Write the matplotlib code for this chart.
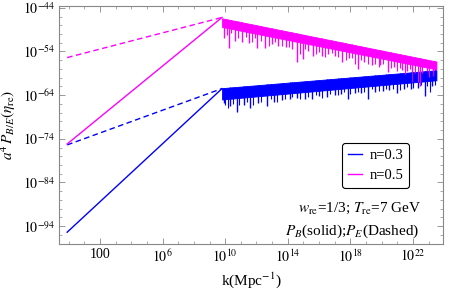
import numpy as np
import matplotlib
matplotlib.use("Agg")
import matplotlib.pyplot as plt
from matplotlib.lines import Line2D
from matplotlib.ticker import FixedLocator, FixedFormatter, NullFormatter

plt.rcParams['font.family'] = ['Liberation Serif', 'DejaVu Serif']
plt.rcParams['mathtext.fontset'] = 'stix'

# ---------------- data (log10 values) ----------------
# rising power-law parts: (log10 k, log10 P) at start and at the peak
k_rise = [-0.1, 9.8]
blue_solid_rise = [-95.4, -62.5]
blue_dash_rise = [-75.4, -62.5]
mag_solid_rise = [-75.2, -46.2]
mag_dash_rise = [-55.4, -46.2]

# oscillating region: upper envelope endpoints and dense band depth (decades)
k_osc = [9.8, 23.5]
mag_env = [-46.4, -56.3]
blue_env = [-62.4, -58.3]
mag_band = [2.0, 1.8]
blue_band = [2.6, 2.3]

# deep spikes (log10 k, log10 P)
mag_spike_k = [9.95, 10.24, 10.6, 11.1, 11.5, 12.03, 12.54, 13.0, 13.4, 13.9, 14.3, 14.59,
               14.97, 15.3, 15.61, 16.19, 16.6, 17.0, 17.46, 17.9, 18.49, 18.9, 19.4,
               19.9, 20.40, 20.8, 21.3, 21.6, 21.94, 22.45, 22.9, 23.28]
mag_spike_p = [-50.8, -53.1, -51.5, -51.8, -52.0, -53.1, -53.1, -52.3, -52.8, -53.0, -53.5, -56.3,
               -55.8, -54.0, -55.1, -55.1, -54.6, -55.0, -56.3, -55.6, -58.1, -56.5, -57.0,
               -57.2, -58.6, -57.6, -58.2, -58.5, -60.9, -62.0, -59.2, -59.7]
blue_spike_k = [9.95, 10.3, 10.75, 11.2, 11.58, 12.1, 12.67, 13.1, 13.6, 14.14, 14.6,
                15.1, 15.55, 16.0, 16.5, 17.0, 17.4, 17.85, 18.3, 18.7, 19.12, 19.6,
                20.1, 20.5, 20.98, 21.4, 21.9, 22.3, 22.77, 23.2]
blue_spike_p = [-65.7, -66.5, -67.8, -66.2, -66.9, -65.8, -66.6, -65.5, -65.2, -65.0, -64.6,
                -64.8, -65.0, -64.2, -64.4, -64.0, -63.8, -65.0, -63.5, -63.6, -65.0, -63.2,
                -63.0, -62.8, -63.4, -62.5, -62.6, -62.4, -64.3, -62.0]

# shorter spikes: depth below the upper envelope (decades)
mag_short_k = [10.1, 10.4, 10.8, 11.3, 11.7, 11.9, 12.3, 12.8, 13.2, 13.6, 14.1, 14.8,
               15.1, 15.8, 16.0, 16.4, 16.8, 17.2, 17.7, 18.1, 18.3, 18.7, 19.1, 19.6,
               19.8, 20.1, 20.6, 21.0, 21.2, 21.5, 21.8, 22.1, 22.3, 22.6, 23.0, 23.4]
mag_short_d = [3.6, 3.0, 3.8, 3.2, 4.0, 3.1, 3.5, 4.2, 3.0, 3.7, 3.4, 4.5,
               3.2, 3.9, 3.3, 4.1, 3.0, 3.6, 3.8, 3.1, 4.4, 3.2, 3.7, 3.4,
               4.0, 3.1, 3.5, 3.9, 3.2, 4.3, 3.0, 3.6, 5.5, 3.3, 3.8, 3.0]
blue_short_k = [10.0, 10.15, 10.5, 10.9, 11.4, 11.8, 12.3, 12.9, 13.3, 13.8, 14.3, 14.8,
                15.3, 15.8, 16.2, 16.7, 17.2, 17.6, 18.0, 18.5, 18.9, 19.4, 19.8,
                20.3, 20.7, 21.2, 21.6, 22.0, 22.5, 22.9, 23.1, 23.4]
blue_short_d = [4.0, 4.6, 3.8, 4.3, 3.6, 4.4, 3.9, 3.5, 4.2, 3.7, 3.4, 4.0,
                3.6, 3.3, 4.1, 3.5, 3.8, 3.2, 3.9, 3.4, 3.6, 3.1, 3.7,
                3.3, 3.5, 3.8, 3.2, 3.6, 3.1, 3.4, 4.8, 3.3]

# axes
x_ticks = [1e2, 1e6, 1e10, 1e14, 1e18, 1e22]
x_labels = ['100', '$10^{6}$', '$10^{10}$', '$10^{14}$', '$10^{18}$', '$10^{22}$']
y_ticks = [1e-94, 1e-84, 1e-74, 1e-64, 1e-54, 1e-44]
y_labels = ['$10^{-94}$', '$10^{-84}$', '$10^{-74}$', '$10^{-64}$', '$10^{-54}$', '$10^{-44}$']

BLUE = '#0000ff'
MAG = '#ff00ff'

fig = plt.figure(figsize=(4.49, 2.89), dpi=100)
ax = fig.add_axes([0.1314, 0.1557, 0.8552, 0.8233])
ax.set_xscale('log')
ax.set_yscale('log')

p10 = lambda a: np.power(10.0, np.asarray(a, dtype=float))

# rising parts
ax.plot(p10(k_rise), p10(blue_solid_rise), color=BLUE, lw=1.0)
ax.plot(p10(k_rise), p10(blue_dash_rise), color=BLUE, lw=1.0, ls=(0, (4, 2.5)))
ax.plot(p10(k_rise), p10(mag_solid_rise), color=MAG, lw=1.0)
ax.plot(p10(k_rise), p10(mag_dash_rise), color=MAG, lw=1.0, ls=(0, (4, 2.5)))

# dense oscillating bands
for env, band, col in [(mag_env, mag_band, MAG), (blue_env, blue_band, BLUE)]:
    top = np.array(env)
    bot = top - np.array(band)
    ax.fill_between(p10(k_osc), p10(bot), p10(top), color=col, lw=0.6, edgecolor=col)

# spikes
for sk, sp, env, col in [(mag_spike_k, mag_spike_p, mag_env, MAG),
                         (blue_spike_k, blue_spike_p, blue_env, BLUE)]:
    env_at = np.interp(sk, k_osc, env)
    ax.vlines(p10(sk), p10(sp), p10(env_at), color=col, lw=1.0)

for sk, sd, env, col in [(mag_short_k, mag_short_d, mag_env, MAG),
                         (blue_short_k, blue_short_d, blue_env, BLUE)]:
    env_at = np.interp(sk, k_osc, env)
    ax.vlines(p10(sk), p10(env_at - np.array(sd)), p10(env_at), color=col, lw=0.8)

ax.set_xlim(10 ** -0.62, 10 ** 23.92)
ax.set_ylim(10 ** -98.1, 10 ** -43.6)

ax.xaxis.set_major_locator(FixedLocator(x_ticks))
ax.xaxis.set_major_formatter(FixedFormatter(x_labels))
ax.xaxis.set_minor_locator(FixedLocator([10.0 ** i for i in range(0, 24)]))
ax.xaxis.set_minor_formatter(NullFormatter())
ax.yaxis.set_major_locator(FixedLocator(y_ticks))
ax.yaxis.set_major_formatter(FixedFormatter(y_labels))
ax.yaxis.set_minor_locator(FixedLocator([10.0 ** i for i in range(-98, -43, 2)]))
ax.yaxis.set_minor_formatter(NullFormatter())

ax.tick_params(which='both', direction='in', top=True, right=True,
               color='#888888', labelsize=10, pad=3)
ax.tick_params(which='major', length=4, width=0.6)
ax.tick_params(which='minor', length=2, width=0.5)
for s in ax.spines.values():
    s.set_color('#888888')
    s.set_linewidth(0.8)

ax.set_xlabel('k(Mpc$^{-1}$)', fontsize=11, labelpad=4)
ax.set_ylabel(r'$a^4\,P_{B/E}(\eta_{\rm re})$', fontsize=11, labelpad=3)

handles = [Line2D([], [], color=BLUE, lw=1.0), Line2D([], [], color=MAG, lw=1.0)]
leg = ax.legend(handles, ['n=0.3', 'n=0.5'], loc='upper left',
                bbox_to_anchor=(0.737, 0.425),
                fontsize=10.5, handlelength=1.0, handletextpad=0.5,
                borderpad=0.4, labelspacing=0.45, fancybox=True, framealpha=1,
                borderaxespad=0)
leg.get_frame().set_edgecolor('black')
leg.get_frame().set_linewidth(0.8)

ax.text(0.784, 0.151, r'$w_{\rm re}$=1/3; $T_{\rm re}$=7 GeV', transform=ax.transAxes,
        ha='center', va='center', fontsize=11)
ax.text(0.938, 0.055, r'$P_B$(solid);$P_E$(Dashed)', transform=ax.transAxes,
        ha='right', va='center', fontsize=11)

fig.savefig('out.png', dpi=100)
